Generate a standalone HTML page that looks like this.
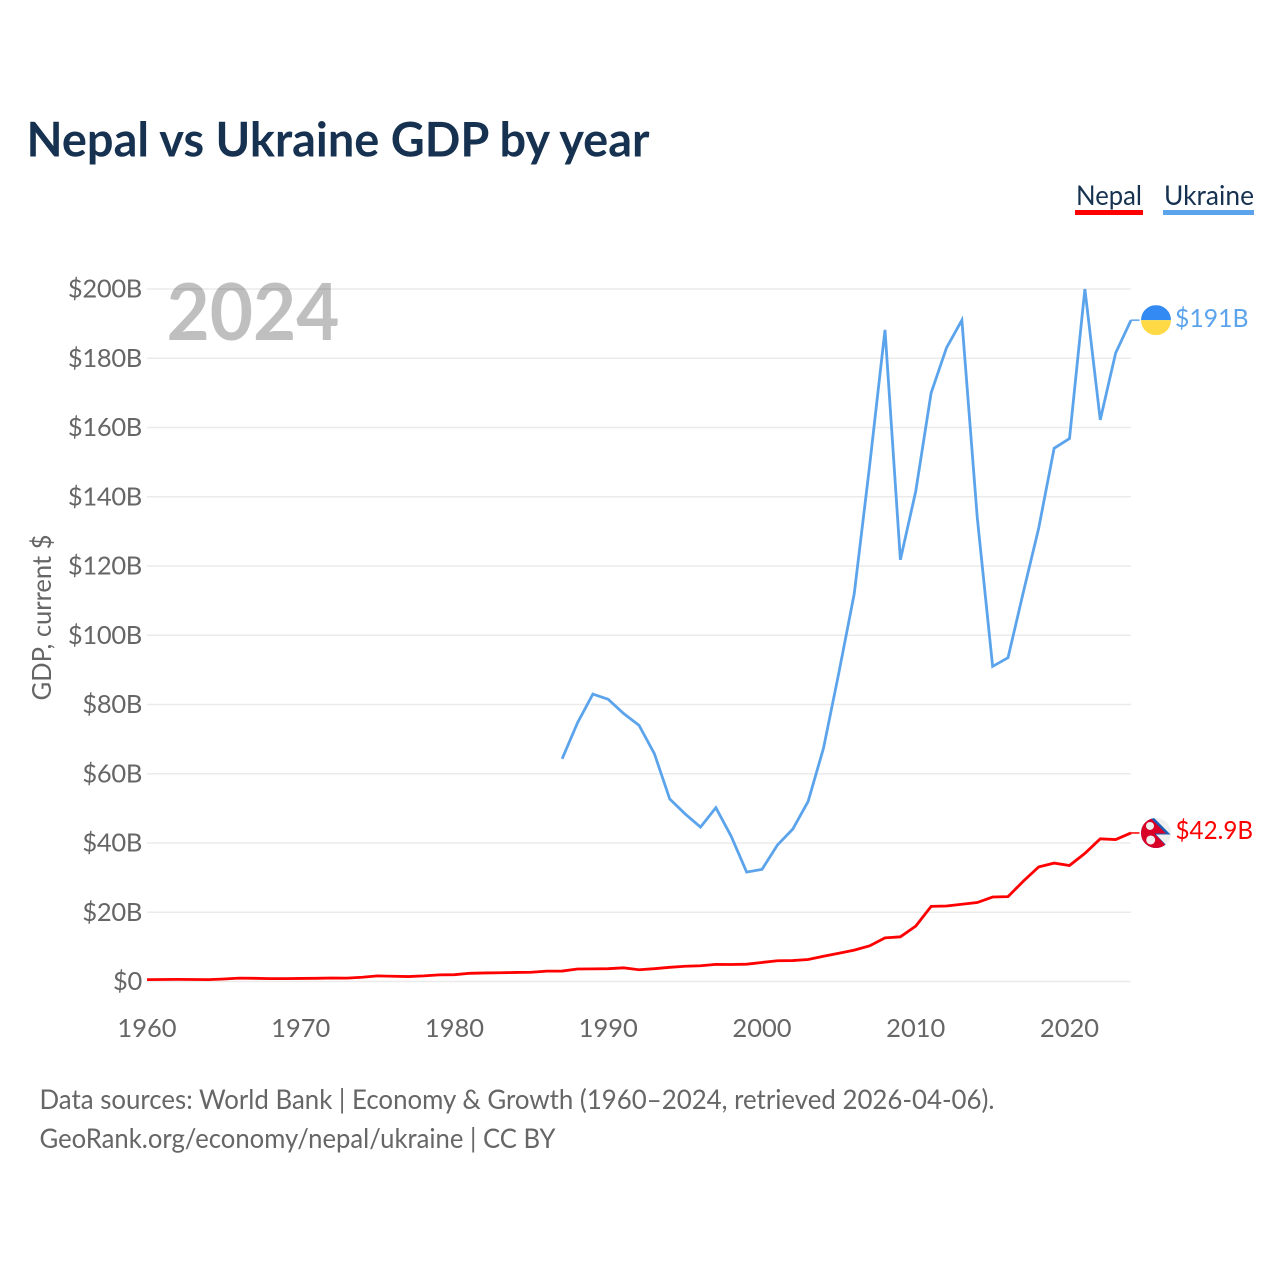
<!DOCTYPE html>
<html lang="en">
<head>
<meta charset="utf-8">
<title>Nepal vs Ukraine GDP by year</title>
<style>
  html, body { margin: 0; padding: 0; background: #fff; }
  svg { display: block; font-family: "Lato", "Carlito", "Liberation Sans", sans-serif; }
</style>
</head>
<body>
<svg id="chart" xmlns="http://www.w3.org/2000/svg" width="1280" height="1280" viewBox="0 0 1280 1280">
  <defs>
    <clipPath id="ukraine-clip"><circle id="ukraine-clip-circle" r="15"></circle></clipPath>
    <clipPath id="nepal-clip"><circle id="nepal-clip-circle" r="15"></circle></clipPath>
  </defs>
  <rect width="1280" height="1280" fill="#fff"></rect>
  <text x="26.5" y="156.5" font-size="48" font-weight="700" fill="#163250" textLength="623" lengthAdjust="spacingAndGlyphs">Nepal vs Ukraine GDP by year</text>

  <g>
    <text x="1076" y="205" font-size="27" fill="#163250" textLength="66" lengthAdjust="spacingAndGlyphs">Nepal</text>
    <rect x="1075" y="210" width="68" height="5" fill="#ff0000"></rect>
  </g>
  <g>
    <text x="1164" y="205" font-size="27" fill="#163250" textLength="90" lengthAdjust="spacingAndGlyphs">Ukraine</text>
    <rect x="1163" y="210" width="91" height="5" fill="#5ba4ec"></rect>
  </g>

  <g id="grid"></g>
  <g id="y-ticks"></g>
  <g id="x-ticks"></g>

  <text x="166.5" y="340" font-size="79" font-weight="700" fill="#000" fill-opacity="0.25" textLength="173" lengthAdjust="spacingAndGlyphs">2024</text>
  <text transform="translate(51,617.5) rotate(-90)" text-anchor="middle" font-size="26" fill="#666" textLength="166" lengthAdjust="spacingAndGlyphs">GDP, current $</text>

  <g id="series"></g>

  <g id="ukraine-flag" clip-path="url(#ukraine-clip)">
    <rect id="ukraine-top" width="30" height="15" fill="#338af3"></rect>
    <rect id="ukraine-bottom" width="30" height="15" fill="#ffda44"></rect>
  </g>
  <g id="nepal-flag" clip-path="url(#nepal-clip)">
    <rect x="-16" y="-16" width="32" height="32" fill="#f0f0f0"></rect>
    <polygon points="-5,-18 14.5,1.5 0,1.5 14,16 -16,16 -16,-18" fill="#1a5fb4"></polygon>
    <polygon points="-8,-17.5 10,0.5 -1.5,0.5 13,16 -16,16 -16,-17.5" fill="#d80027"></polygon>
    <circle cx="-6" cy="-7" r="4" fill="#f0f0f0"></circle>
    <circle cx="-5.3" cy="7" r="4.5" fill="#f0f0f0"></circle>
  </g>

  <text id="ukraine-value" x="1175" font-size="25.5" fill="#5ba4ec" textLength="73.5" lengthAdjust="spacingAndGlyphs"></text>
  <text id="nepal-value" x="1175.5" font-size="25.5" fill="#ff0000" textLength="77.5" lengthAdjust="spacingAndGlyphs"></text>

  <text x="39.5" y="1109" font-size="27" fill="#666" textLength="955" lengthAdjust="spacingAndGlyphs">Data sources: World Bank | Economy &amp; Growth (1960–2024, retrieved 2026-04-06).</text>
  <text x="39.5" y="1148" font-size="27" fill="#666" textLength="516" lengthAdjust="spacingAndGlyphs">GeoRank.org/economy/nepal/ukraine | CC BY</text>
</svg>

<script>
const startYear = 1960;
const endYear = 2024;
const yTickValues = [0, 20, 40, 60, 80, 100, 120, 140, 160, 180, 200];
const yTickLabels = ["$0", "$20B", "$40B", "$60B", "$80B", "$100B", "$120B", "$140B", "$160B", "$180B", "$200B"];
const xTickValues = [1960, 1970, 1980, 1990, 2000, 2010, 2020];
const nepalGdp = [0.55, 0.58, 0.62, 0.58, 0.55, 0.72, 0.97, 0.92, 0.82, 0.82,
  0.89, 0.92, 1.02, 0.97, 1.22, 1.62, 1.52, 1.42, 1.62, 1.92,
  1.97, 2.37, 2.47, 2.52, 2.62, 2.67, 3.0, 3.02, 3.6, 3.65,
  3.7, 3.95, 3.4, 3.7, 4.1, 4.4, 4.55, 4.95, 4.9, 5.0,
  5.5, 6.0, 6.05, 6.35, 7.3, 8.15, 9.05, 10.3, 12.6, 12.9,
  16.0, 21.7, 21.8, 22.3, 22.8, 24.4, 24.5, 29.0, 33.1, 34.2,
  33.5, 37.0, 41.2, 41.0, 42.9];
const ukraineGdp = [null, null, null, null, null, null, null, null, null, null,
  null, null, null, null, null, null, null, null, null, null,
  null, null, null, null, null, null, null, 64.3, 74.7, 83.0,
  81.5, 77.4, 74.0, 65.8, 52.7, 48.4, 44.6, 50.2, 41.9, 31.6,
  32.4, 39.4, 44.0, 52.0, 67.4, 89.2, 112.0, 149.0, 188.2, 121.8,
  141.6, 170.0, 183.0, 191.0, 134.0, 91.0, 93.5, 112.5, 131.0, 154.0,
  156.8, 200.0, 162.2, 181.5, 191.0];
const nepalEndLabel = "$42.9B";
const ukraineEndLabel = "$191B";

const SVG_NS = "http://www.w3.org/2000/svg";
const plotLeft = 147, plotRight = 1131, plotBaseline = 981.5, plotTop = 289;
const connectorStart = 1131, connectorEnd = 1139.5, flagX = 1156, yMax = 200;

function xScale(year) {
  return plotLeft + (year - startYear) / (endYear - startYear) * (plotRight - plotLeft);
}
function yScale(value) {
  return plotBaseline - value / yMax * (plotBaseline - plotTop);
}
function make(tag, attrs, parent) {
  const el = document.createElementNS(SVG_NS, tag);
  for (const key in attrs) el.setAttribute(key, attrs[key]);
  parent.appendChild(el);
  return el;
}
function linePoints(values) {
  const pts = [];
  values.forEach(function (v, i) {
    if (v !== null) pts.push(xScale(startYear + i).toFixed(2) + "," + yScale(v).toFixed(2));
  });
  return pts.join(" ");
}

const gridGroup = document.getElementById("grid");
const yTickGroup = document.getElementById("y-ticks");
const xTickGroup = document.getElementById("x-ticks");
const seriesGroup = document.getElementById("series");

yTickValues.forEach(function (v, i) {
  const line = make("line", { x1: plotLeft, x2: plotRight, y1: yScale(v), y2: yScale(v), stroke: "#ebebeb", "stroke-width": 1.5 }, gridGroup);
  
  
  const label = make("text", { x: 142, y: yScale(v) + 8.5, "text-anchor": "end", "font-size": 25.5, "letter-spacing": "-0.3", fill: "#666" }, yTickGroup);
  
  
  label.textContent = yTickLabels[i];
});

xTickValues.forEach(function (year) {
  const label = make("text", { x: xScale(year), y: 1037, "text-anchor": "middle", "font-size": 25.5, fill: "#666" }, xTickGroup);
  
  
  label.textContent = String(year);
});

const ukraineLine = make("polyline", { points: linePoints(ukraineGdp), fill: "none", stroke: "#5ba4ec", "stroke-width": 2.8, "stroke-linejoin": "miter" }, seriesGroup);



const nepalLine = make("polyline", { points: linePoints(nepalGdp), fill: "none", stroke: "#ff0000", "stroke-width": 2.8, "stroke-linejoin": "miter" }, seriesGroup);



const ukraineY = yScale(ukraineGdp[ukraineGdp.length - 1]);
const nepalY = yScale(nepalGdp[nepalGdp.length - 1]);

const ukraineConnector = make("line", { x1: connectorStart, x2: connectorEnd, y1: ukraineY, y2: ukraineY, stroke: "#5ba4ec", "stroke-width": 1.5 }, seriesGroup);



const nepalConnector = make("line", { x1: connectorStart, x2: connectorEnd, y1: nepalY, y2: nepalY, stroke: "#ff0000", "stroke-width": 1.5 }, seriesGroup);



const ukraineClip = document.getElementById("ukraine-clip-circle");
ukraineClip.setAttribute("cx", flagX);
ukraineClip.setAttribute("cy", ukraineY);
const ukraineTop = document.getElementById("ukraine-top");
ukraineTop.setAttribute("x", flagX - 15);
ukraineTop.setAttribute("y", ukraineY - 15);
const ukraineBottom = document.getElementById("ukraine-bottom");
ukraineBottom.setAttribute("x", flagX - 15);
ukraineBottom.setAttribute("y", ukraineY);

const nepalClip = document.getElementById("nepal-clip-circle");
nepalClip.setAttribute("cx", 0);
nepalClip.setAttribute("cy", 0);
document.getElementById("nepal-flag").setAttribute("transform", "translate(" + flagX + "," + nepalY + ")");

const ukraineValue = document.getElementById("ukraine-value");
ukraineValue.setAttribute("y", ukraineY + 7);
ukraineValue.textContent = ukraineEndLabel;
const nepalValue = document.getElementById("nepal-value");
nepalValue.setAttribute("y", nepalY + 6);
nepalValue.textContent = nepalEndLabel;
</script>
</body>
</html>
